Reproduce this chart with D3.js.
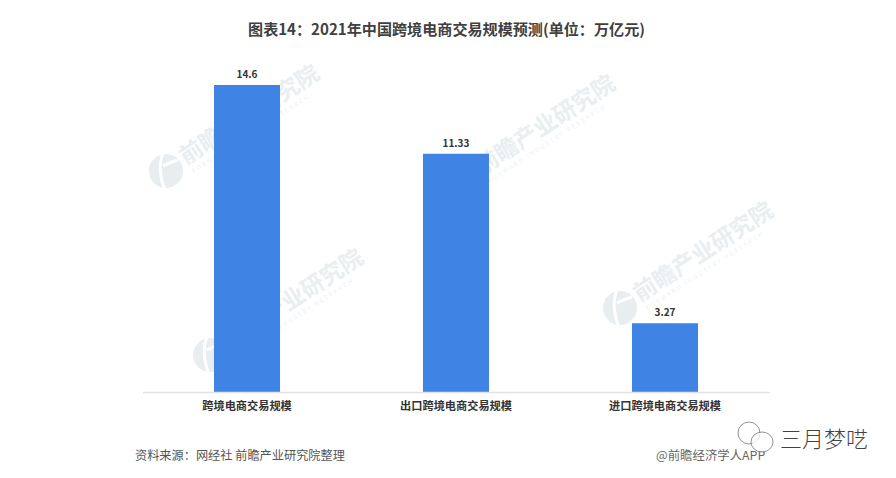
<!DOCTYPE html>
<html>
<head>
<meta charset="utf-8">
<script src="https://cdn.jsdelivr.net/npm/d3@7"></script>
<style>
    html, body { margin: 0; padding: 0; background: #fff; }
    text { font-family: "Noto Sans CJK SC", "Noto Sans", sans-serif; }
</style>
</head>
<body>
<div id="chart"></div>
<script>
const categories = ["跨境电商交易规模", "出口跨境电商交易规模", "进口跨境电商交易规模"];
const values = [14.6, 11.33, 3.27];
const valueLabels = ["14.6", "11.33", "3.27"];
const chartTitle = "图表14：2021年中国跨境电商交易规模预测(单位：万亿元)";
const sourceText = "资料来源：网经社 前瞻产业研究院整理";
const creditText = "@前瞻经济学人APP";
const accountName = "三月梦呓";
const watermarkName = "前瞻产业研究院";
const watermarkSub = "FORWARD INDUSTRY RESEARCH";

const width = 896, height = 478;
const baseline = 392;

const svg = d3.select("#chart")
    .append("svg")
    .attr("width", width)
    .attr("height", height)
    .style("display", "block");

// Add watermarks under the bars
const watermarkSpots = [[166, 171], [210, 355], [462, 181], [620, 308]];
const wm = svg.selectAll(".wm")
    .data(watermarkSpots)
    .join("g")
    .attr("class", "wm")
    .attr("transform", d => `translate(${d[0]},${d[1]})`);
wm.append("circle")
    .attr("r", 17)
    .attr("fill", "#e8edf0");
wm.append("path")
    .attr("d", "M-3,-18 Q-9,-4 -2,17")
    .attr("fill", "none")
    .attr("stroke", "#fff")
    .attr("stroke-width", 3);
wm.append("path")
    .attr("d", "M-3,-5 Q4,-9 12,-11")
    .attr("fill", "none")
    .attr("stroke", "#fff")
    .attr("stroke-width", 3);
wm.append("text")
    .attr("transform", "rotate(-33) translate(20,6)")
    .attr("font-size", 23)
    .attr("font-weight", 700)
    .attr("fill", "#e9eef1")
    .text(watermarkName);
wm.append("text")
    .attr("transform", "rotate(-33) translate(22,17)")
    .attr("font-size", 6)
    .attr("letter-spacing", 2)
    .attr("fill", "#eef2f4")
    .text(watermarkSub);

// Scales
const x = d3.scaleBand()
    .domain(categories)
    .range([142.5, 769.5])
    .paddingInner(0.684)
    .paddingOuter(0.342);
const y = d3.scaleLinear()
    .domain([0, 14.6])
    .range([baseline, 85]);

// Bars
svg.selectAll(".bar")
    .data(values)
    .join("rect")
    .attr("class", "bar")
    .attr("x", (d, i) => x(categories[i]))
    .attr("y", d => y(d))
    .attr("width", x.bandwidth())
    .attr("height", d => y(0) - y(d))
    .attr("fill", "#3f84e5");

// X axis
const axis = svg.append("g")
    .attr("transform", `translate(0,${baseline})`)
    .call(d3.axisBottom(x).tickSize(0).tickPadding(10));
axis.select(".domain").attr("stroke", "#dfe3e6").attr("stroke-width", 1.5);
axis.selectAll("text")
    .attr("font-size", 11.2)
    .attr("font-weight", 700)
    .attr("fill", "#333")
    .style("font-family", '"Noto Sans CJK SC", sans-serif');

// Value labels
svg.selectAll(".value")
    .data(values)
    .join("text")
    .attr("class", "value")
    .attr("x", (d, i) => x(categories[i]) + x.bandwidth() / 2)
    .attr("y", d => y(d) - 7)
    .attr("text-anchor", "middle")
    .attr("font-size", 10)
    .attr("font-weight", 700)
    .attr("fill", "#333")
    .text((d, i) => valueLabels[i]);

// Title
svg.append("text")
    .attr("x", 446.5)
    .attr("y", 35)
    .attr("text-anchor", "middle")
    .attr("font-size", 15.1)
    .attr("font-weight", 700)
    .attr("fill", "#404040")
    .text(chartTitle);

// Footer
svg.append("text")
    .attr("x", 135)
    .attr("y", 460)
    .attr("font-size", 12.2)
    .attr("fill", "#555")
    .text(sourceText);
svg.append("text")
    .attr("x", 656)
    .attr("y", 460)
    .attr("font-size", 12.4)
    .attr("fill", "#666")
    .text(creditText);

// Account badge, two speech bubbles and the name
const badge = svg.append("g").attr("fill", "#fff").attr("fill-opacity", 0.75).attr("stroke", "#777").attr("stroke-width", 0.8);
badge.append("ellipse").attr("cx", 749).attr("cy", 433).attr("rx", 11).attr("ry", 11);
badge.append("ellipse").attr("cx", 762).attr("cy", 442).attr("rx", 11).attr("ry", 10);
svg.append("text")
    .attr("x", 780)
    .attr("y", 447)
    .attr("font-size", 22)
    .attr("font-weight", 300)
    .attr("fill", "#444")
    .text(accountName);
</script>
</body>
</html>
